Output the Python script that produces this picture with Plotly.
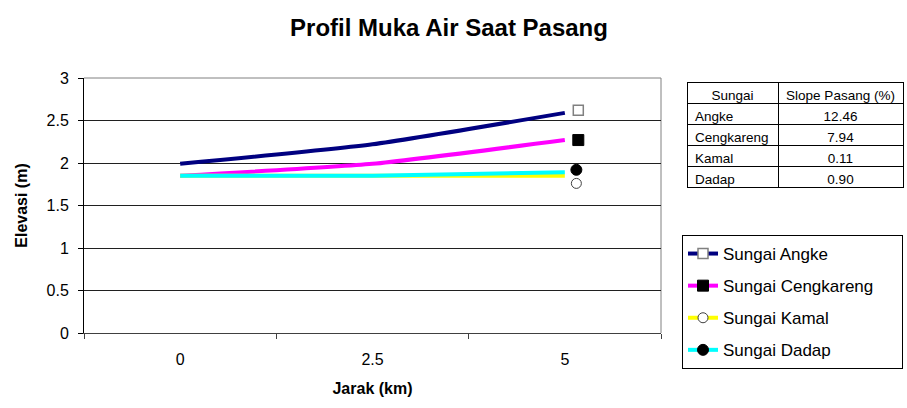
import plotly.graph_objects as go

# ---- data ----
jarak_labels = ["0", "2.5", "5"]
series_names = ["Sungai Angke", "Sungai Cengkareng", "Sungai Kamal", "Sungai Dadap"]
angke = [1.99, 2.22, 2.59]
cengkareng = [1.85, 1.99, 2.27]
kamal = [1.85, 1.85, 1.85]
dadap = [1.85, 1.85, 1.89]
marker_elev = [2.62, 2.27, 1.76, 1.92]   # lone end markers
marker_pos = [2.07, 2.07, 2.06, 2.06]    # position along category index (after '5')

table_sungai = ["Angke", "Cengkareng", "Kamal", "Dadap"]
table_slope = ["12.46", "7.94", "0.11", "0.90"]
table_header = ["Sungai", "Slope\u00a0Pasang\u00a0(%)"]

line_colors = ["#000080", "#FF00FF", "#FFFF00", "#00FFFF"]
marker_styles = [
    dict(symbol="square", color="white", size=10, line=dict(color="#808080", width=1.5)),
    dict(symbol="square", color="black", size=11, line=dict(color="black", width=1)),
    dict(symbol="circle", color="white", size=10, line=dict(color="#404040", width=1)),
    dict(symbol="circle", color="black", size=11, line=dict(color="black", width=1)),
]
FONT = "Liberation Sans, Arial, sans-serif"
W, H = 907, 408
PL, PR, PT, PB = 84, 661, 78, 333   # plot area in pixels

# legend box is wider than the text in the original; pad the labels to widen it
longest = max(len(n) for n in series_names)
legend_labels = [n + "\u00a0" * (longest - len(n) + 5) for n in series_names]

fig = go.Figure()
series = [angke, cengkareng, kamal, dadap]
for name, ys, col in zip(series_names, series, line_colors):
    fig.add_trace(go.Scatter(x=jarak_labels, y=ys, mode="lines", name=name,
                             line=dict(color=col, width=4, shape="spline", smoothing=0.5),
                             showlegend=False, xaxis="x", yaxis="y"))

for i, (lab, col) in enumerate(zip(legend_labels, line_colors)):
    fig.add_trace(go.Scatter(x=[marker_pos[i]], y=[marker_elev[i]], mode="lines+markers",
                             name=lab, legendgroup=series_names[i],
                             line=dict(color=col, width=4), marker=marker_styles[i],
                             xaxis="x2", yaxis="y"))

fig.add_trace(go.Table(
    domain=dict(x=[687 / W, 903 / W], y=[1 - 193 / H, 1 - 82 / H]),
    columnwidth=[91, 125],
    header=dict(values=table_header, height=21,
                line=dict(color="black", width=1), fill=dict(color="white"),
                align="center", font=dict(family=FONT, size=13.5, color="black")),
    cells=dict(values=[table_sungai, table_slope], height=21,
               line=dict(color="black", width=1), fill=dict(color="white"),
               align=["left", "center"], font=dict(family=FONT, size=13.5, color="black")),
))

fig.update_layout(
    width=W, height=H,
    margin=dict(l=0, r=0, t=0, b=0, autoexpand=False),
    paper_bgcolor="white", plot_bgcolor="white",
    font=dict(family=FONT, size=16, color="black"),
    title=dict(text="<b>Profil Muka Air Saat Pasang</b>", x=449 / W, xanchor="center",
               y=1 - 28 / H, yanchor="middle", font=dict(size=24, family=FONT)),
    xaxis=dict(domain=[PL / W, PR / W], type="category", range=[-0.5, 2.5],
               tickson="boundaries", ticks="outside", automargin=False,
               ticklen=5, tickcolor="#404040", showgrid=False, showline=True,
               linecolor="#404040", linewidth=1, ticklabelstandoff=12,
               title=dict(text="<b>Jarak (km)</b>", standoff=15, font=dict(size=16)),
               tickfont=dict(size=16)),
    xaxis2=dict(domain=[PL / W, PR / W], range=[-0.5, 2.5], overlaying="x", visible=False),
    yaxis=dict(domain=[1 - PB / H, 1 - PT / H], range=[0, 3], dtick=0.5, ticks="outside",
               ticklen=5, tickcolor="black", automargin=False,
               showgrid=True, gridcolor="#202020", gridwidth=1, showline=True,
               linecolor="black", linewidth=1, zeroline=False, ticklabelstandoff=6,
               title=dict(text="<b>Elevasi (m)</b>", standoff=14, font=dict(size=16)),
               tickfont=dict(size=16)),
    legend=dict(x=682 / W, xanchor="left", y=1 - 235 / H, yanchor="top",
                bgcolor="white", bordercolor="black", borderwidth=1,
                font=dict(size=17, family=FONT), tracegroupgap=7,
                traceorder="grouped", itemwidth=30),
    shapes=[
        dict(type="line", xref="x domain", yref="y domain", x0=0, x1=1, y0=1, y1=1,
             line=dict(color="#808080", width=1), layer="below"),
        dict(type="line", xref="x domain", yref="y domain", x0=1, x1=1, y0=0, y1=1,
             line=dict(color="#808080", width=1), layer="below"),
    ],
)

fig.write_html("out.html", config={"displayModeBar": False},
               post_script="document.body.style.margin='0';document.body.style.padding='0';")
